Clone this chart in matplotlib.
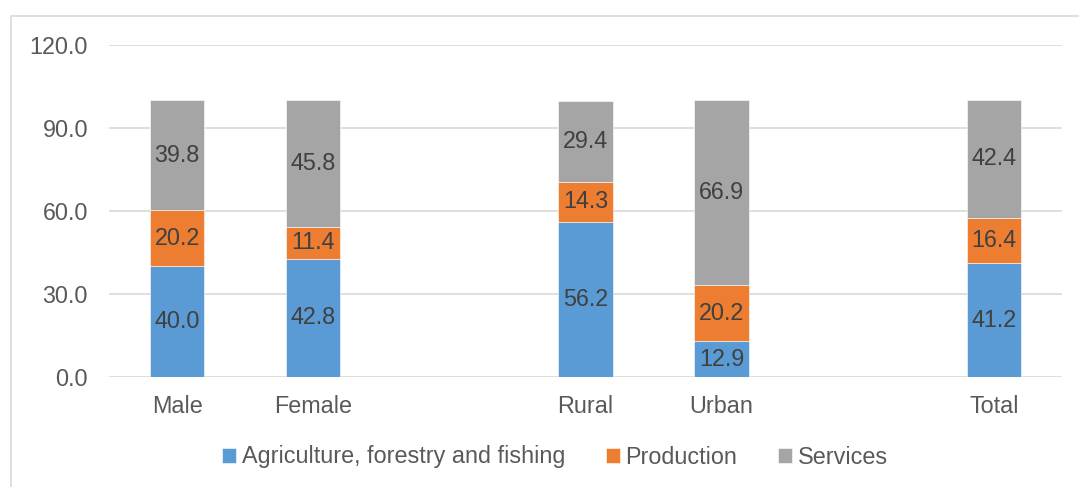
import numpy as np
import matplotlib
matplotlib.use("Agg")
import matplotlib.pyplot as plt
from matplotlib.patches import Rectangle

categories = ["Male", "Female", "", "Rural", "Urban", "", "Total"]
agriculture = [40.0, 42.8, np.nan, 56.2, 12.9, np.nan, 41.2]
production = [20.2, 11.4, np.nan, 14.3, 20.2, np.nan, 16.4]
services = [39.8, 45.8, np.nan, 29.4, 66.9, np.nan, 42.4]
series_names = ["Agriculture, forestry and fishing", "Production", "Services"]
colors = ["#5B9BD5", "#ED7D31", "#A5A5A5"]
yticks = [0, 30, 60, 90, 120]

plt.rcParams['font.family'] = ['Liberation Sans', 'DejaVu Sans']
FS = 16.8

fig = plt.figure(figsize=(10.79, 4.87), dpi=100)
fig.patches.append(Rectangle((11/1079, -0.1), 1.2, 1 - 16/487 + 0.1,
                             transform=fig.transFigure, fill=False,
                             edgecolor="#D9D9D9", linewidth=1.2))
ax = fig.add_axes([109/1079, 1 - 377/487, (1062 - 109)/1079, (377 - 45)/487])

x = np.arange(len(categories))
bottom = np.zeros(len(categories))
for name, vals, col in zip(series_names, [agriculture, production, services], colors):
    v = np.array(vals, dtype=float)
    vv = np.nan_to_num(v)
    ax.bar(x, vv, 0.40, bottom=bottom, color=col, label=name,
           edgecolor="white", linewidth=0.4, zorder=3)
    for xi, b, val in zip(x, bottom, v):
        if not np.isnan(val):
            ax.text(xi, b + val / 2, f"{val:.1f}", ha="center", va="center",
                    fontsize=FS, color="#404040", zorder=4)
    bottom = bottom + vv

ax.set_xlim(-0.5, 6.5)
ax.set_ylim(0, 120)
ax.set_yticks(yticks)
ax.set_yticklabels([f"{t:.1f}" for t in yticks])
ax.set_xticks(x)
ax.set_xticklabels(categories)
ax.tick_params(axis="both", length=0, labelsize=FS, colors="#595959")
ax.tick_params(axis="y", pad=15)
ax.tick_params(axis="x", pad=13)
ax.yaxis.grid(True, color="#D9D9D9", linewidth=1.2, zorder=0)
for s in ax.spines.values():
    s.set_visible(False)

leg = fig.legend(loc="center", bbox_to_anchor=(555/1079, 1 - 457/487), ncol=3,
                 frameon=False, fontsize=FS, handlelength=0.6, handleheight=0.6,
                 handletextpad=0.25, columnspacing=1.75)
for t in leg.get_texts():
    t.set_color("#595959")

fig.savefig("out.png", dpi=100)
